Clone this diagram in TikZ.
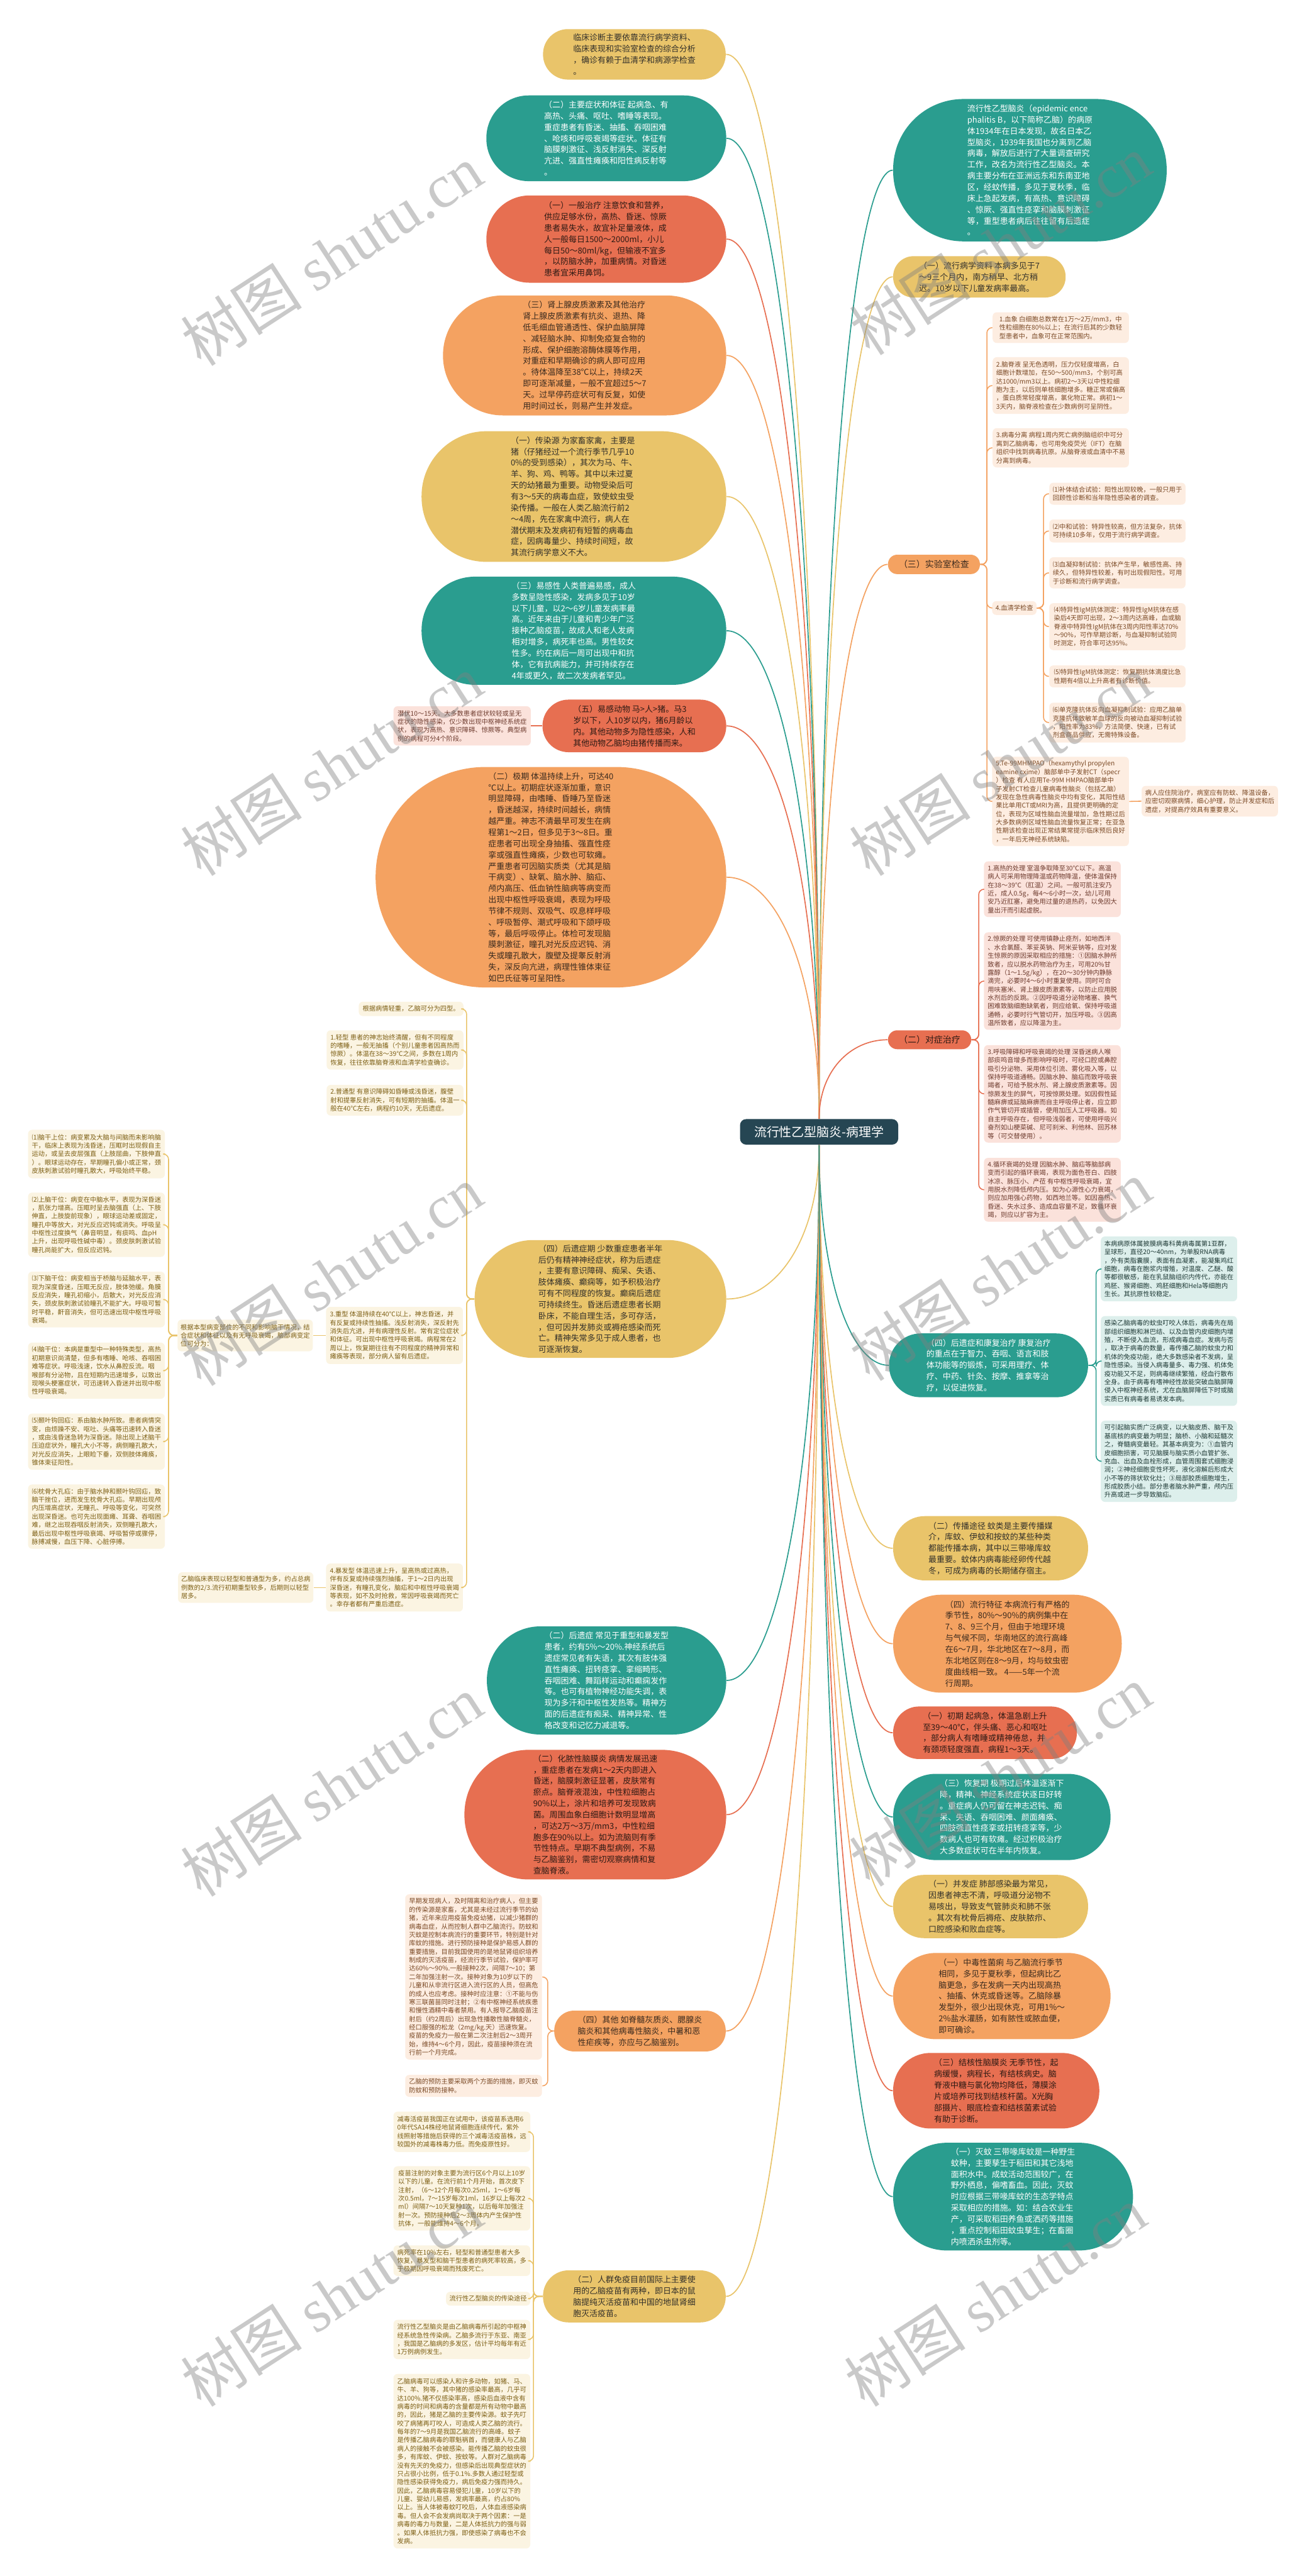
\documentclass[tikz,border=0pt]{standalone}
\usepackage{fontspec}
\setmainfont{Noto Sans CJK SC}
\newfontfamily\wmlatin{Liberation Serif}
\usetikzlibrary{calc}
\definecolor{cY}{HTML}{E9C46A}
\definecolor{cT}{HTML}{2A9D8F}
\definecolor{cR}{HTML}{E76F51}
\definecolor{cO}{HTML}{F4A261}
\definecolor{cRoot}{HTML}{264653}
\definecolor{txY}{HTML}{33302A}
\definecolor{txO}{HTML}{3A2A1E}
\definecolor{txR}{HTML}{2E1A14}
\definecolor{lfY}{HTML}{FBF4E2}
\definecolor{lfO}{HTML}{FDEDE1}
\definecolor{lfR}{HTML}{FBE2DB}
\definecolor{lfT}{HTML}{DDEFEC}
\definecolor{ltY}{HTML}{7D5F14}
\definecolor{ltO}{HTML}{7B4A26}
\definecolor{ltR}{HTML}{6E3B2E}
\definecolor{ltT}{HTML}{1F3A36}
\newcommand\bigf{\fontsize{4.55}{6.26}\selectfont}
\newcommand\smallf{\fontsize{3.6}{4.69}\selectfont}
\tikzset{
 sz/.style n args={3}{minimum width=#1cm,minimum height=#2cm,rounded corners=#3cm},
 ls/.style 2 args={minimum width=#1cm,minimum height=#2cm},
 big/.style={rectangle,align=left,inner sep=0pt,font=\bigf},
 bY/.style={big,fill=cY,text=txY},
 bT/.style={big,fill=cT,text=white},
 bR/.style={big,fill=cR,text=txR},
 bO/.style={big,fill=cO,text=txO},
 leaf/.style={rectangle,rounded corners=0.08cm,align=left,inner xsep=0.06cm,inner ysep=0.03cm,font=\smallf},
 lY/.style={leaf,fill=lfY,text=ltY},
 lO/.style={leaf,fill=lfO,text=ltO},
 lR/.style={leaf,fill=lfR,text=ltR},
 lT/.style={leaf,fill=lfT,text=ltT},
 cl/.style={line width=0.6pt},
 bl/.style={line width=0.55pt,rounded corners=3pt},
 rl/.style={to path={let \p1=(\tikztostart), \p2=(\tikztotarget) in .. controls ({\x1+0.55*(\x2-\x1)},\y1) and (\x2,{\y1+0.4*(\y2-\y1)}) .. (\tikztotarget)}},
 wm/.style={rotate=33,text=gray,text opacity=0.42,font=\fontsize{34}{34}\selectfont}
}
\begin{document}
\begin{tikzpicture}
\useasboundingbox (0,0) rectangle (25.6,-50.48);
\fill[white] (0,0) rectangle (25.6,-50.48);

% root
\node[rectangle,rounded corners=0.12cm,fill=cRoot,text=white,minimum width=3.1cm,minimum height=0.5cm,font=\fontsize{7}{8}\selectfont] (root) at (16.05,-22.18) {流行性乙型脑炎-病理学};

% ---------- left / centre column ----------
\node[bY,sz={3.58}{0.99}{0.49}] (n1) at (12.43,-1.065) {临床诊断主要依靠流行病学资料、\\临床表现和实验室检查的综合分析\\，确诊有赖于血清学和病源学检查\\。};
\node[bT,sz={4.70}{1.68}{0.83}] (n2) at (11.88,-2.71) {（二）主要症状和体征 起病急、有\\高热、头痛、呕吐、嗜睡等表现。\\重症患者有昏迷、抽搐、吞咽困难\\、呛咳和呼吸衰竭等症状。体征有\\脑膜刺激征、浅反射消失、深反射\\亢进、强直性瘫痪和阳性病反射等\\。};
\node[bR,sz={4.70}{1.71}{0.85}] (n3) at (11.88,-4.685) {（一）一般治疗 注意饮食和营养，\\供应足够水份，高热、昏迷、惊厥\\患者易失水，故宜补足量液体，成\\人一般每日1500～2000ml，小儿\\每日50～80ml/kg，但输液不宜多\\，以防脑水肿，加重病情。对昏迷\\患者宜采用鼻饲。};
\node[bO,sz={5.55}{2.35}{1.17}] (n4) at (11.455,-6.965) {（三）肾上腺皮质激素及其他治疗\\肾上腺皮质激素有抗炎、退热、降\\低毛细血管通透性、保护血脑屏障\\、减轻脑水肿、抑制免疫复合物的\\形成、保护细胞溶酶体膜等作用，\\对重症和早期确诊的病人即可应用\\。待体温降至38℃以上，持续2天\\即可逐渐减量，一般不宜超过5～7\\天。过早停药症状可有反复，如使\\用时间过长，则易产生并发症。};
\node[bY,sz={5.97}{2.56}{1.27}] (n5) at (11.245,-9.73) {（一）传染源 为家畜家禽，主要是\\猪（仔猪经过一个流行季节几乎10\\0\%的受到感染），其次为马、牛、\\羊、狗、鸡、鸭等。其中以未过夏\\天的幼猪最为重要。动物受染后可\\有3～5天的病毒血症，致使蚊虫受\\染传播。一般在人类乙脑流行前2\\～4周，先在家禽中流行，病人在\\潜伏期末及发病初有短暂的病毒血\\症，因病毒量少、持续时间短，故\\其流行病学意义不大。};
\node[bT,sz={5.97}{2.12}{1.05}] (n6) at (11.245,-12.36) {（三）易感性 人类普遍易感，成人\\多数呈隐性感染，发病多见于10岁\\以下儿童，以2～6岁儿童发病率最\\高。近年来由于儿童和青少年广泛\\接种乙脑疫苗，故成人和老人发病\\相对增多，病死率也高。男性较女\\性多。约在病后一周可出现中和抗\\体，它有抗病能力，并可持续存在\\4年或更久，故二次发病者罕见。};
\node[bR,sz={3.60}{1.03}{0.51}] (n7) at (12.43,-14.225) {（五）易感动物 马>人>猪。马3\\岁以下，人10岁以内，猪6月龄以\\内。其他动物多为隐性感染，人和\\其他动物乙脑均由猪传播而来。};
\node[lR,ls={2.69}{0.77}] (lf7) at (9.055,-14.225) {潜伏10～15天。大多数患者症状较轻或呈无\\症状的隐性感染，仅少数出现中枢神经系统症\\状，表现为高热、意识障碍、惊厥等。典型病\\例的病程可分4个阶段。};
\node[bO,sz={6.87}{4.32}{2.15}] (n8) at (10.795,-17.19) {（二）极期 体温持续上升，可达40\\℃以上。初期症状逐渐加重，意识\\明显障碍，由嗜睡、昏睡乃至昏迷\\，昏迷越深，持续时间越长，病情\\越严重。神志不清最早可发生在病\\程第1～2日，但多见于3～8日。重\\症患者可出现全身抽搐、强直性痉\\挛或强直性瘫痪，少数也可软瘫。\\严重患者可因脑实质类（尤其是脑\\干病变）、缺氧、脑水肿、脑疝、\\颅内高压、低血钠性脑病等病变而\\出现中枢性呼吸衰竭，表现为呼吸\\节律不规则、双吸气、叹息样呼吸\\、呼吸暂停、潮式呼吸和下颌呼吸\\等，最后呼吸停止。体检可发现脑\\膜刺激征，瞳孔对光反应迟钝、消\\失或瞳孔散大，腹壁及提睾反射消\\失，深反向亢进，病理性锥体束征\\如巴氏征等可呈阳性。};
\node[bY,sz={4.93}{2.31}{1.15}] (n9) at (11.765,-25.455) {（四）后遗症期 少数重症患者半年\\后仍有精神神经症状，称为后遗症\\，主要有意识障碍、痴呆、失语、\\肢体瘫痪、癫痫等，如予积极治疗\\可有不同程度的恢复。癫痫后遗症\\可持续终生。昏迷后遗症患者长期\\卧床，不能自理生活，多可存活，\\，但可因并发肺炎或褥疮感染而死\\亡。精神失常多见于成人患者，也\\可逐渐恢复。};

% clinical types (yellow leaves)
\node[lY,ls={2.05}{0.28}] (L0) at (8.055,-19.77) {根据病情轻重，乙脑可分为四型。};
\node[lY,ls={2.68}{0.77}] (L1) at (7.74,-20.575) {1.轻型 患者的神志始终清醒，但有不同程度\\的嗜睡，一般无抽搐（个别儿童患者因高热而\\惊厥）。体温在38～39℃之间，多数在1周内\\恢复，往往依靠脑脊液和血清学检查确诊。};
\node[lY,ls={2.68}{0.60}] (L2) at (7.74,-21.56) {2.普通型 有意识障碍如昏睡或浅昏迷，腹壁\\射和提睾反射消失，可有短期的抽搐。体温一\\般在40℃左右，病程约10天，无后遗症。};
\node[lY,ls={2.68}{1.12}] (L3) at (7.73,-26.17) {3.重型 体温持续在40℃以上，神志昏迷，并\\有反复或持续性抽搐。浅反射消失，深反射先\\消失后亢进，并有病理性反射。常有定位症状\\和体征。可出现中枢性呼吸衰竭。病程常在2\\周以上，恢复期往往有不同程度的精神异常和\\瘫痪等表现，部分病人留有后遗症。};
\node[lY,ls={2.65}{0.62}] (L3a) at (4.805,-26.17) {根据本型病变部位的不同和影响脑干情况，结\\合症状和体征以及有无呼吸衰竭，脑部病变定\\位可分为：};
\node[lY,ls={2.68}{0.95}] (S1) at (1.89,-22.615) {⑴脑干上位：病变累及大脑与间脑而未影响脑\\干，临床上表现为浅昏迷，压眶时出现假自主\\运动，或呈去皮层强直（上肢屈曲，下肢伸直\\）。眼球运动存在，早期瞳孔偏小或正常，颈\\皮肤刺激试验时瞳孔散大，呼吸始终平稳。};
\node[lY,ls={2.68}{1.26}] (S2) at (1.89,-24.0) {⑵上脑干位：病变在中脑水平，表现为深昏迷\\，肌张力增高。压眶时呈去脑强直（上、下肢\\伸直，上肢旋前现象），眼球运动差或固定，\\瞳孔中等放大，对光反应迟钝或消失。呼吸呈\\中枢性过度换气（鼻音明显，有痰鸣、血pH\\上升，出现呼吸性碱中毒）。颈皮肤刺激试验\\瞳孔尚能扩大，但反应迟钝。};
\node[lY,ls={2.68}{1.09}] (S3) at (1.89,-25.465) {⑶下脑干位：病变相当于桥脑与延脑水平，表\\现为深度昏迷，压眶无反应，肢体弛缓。角膜\\反应消失，瞳孔初缩小，后散大，对光反应消\\失，颈皮肤刺激试验瞳孔不能扩大。呼吸可暂\\时平稳，鼾音消失，但可迅速出现中枢性呼吸\\衰竭。};
\node[lY,ls={2.68}{1.10}] (S4) at (1.89,-26.86) {⑷脑干位：本病是重型中一种特殊类型，高热\\初期意识尚清楚，但多有嗜睡、呛咳、吞咽困\\难等症状。呼吸浅速，饮水从鼻腔反流。咽\\喉部有分泌物，且在短期内迅速增多，以致出\\现喉头梗塞症状，可迅速转入昏迷并出现中枢\\性呼吸衰竭。};
\node[lY,ls={2.68}{1.10}] (S5) at (1.89,-28.25) {⑸颞叶钩回疝：系由脑水肿所致。患者病情突\\变，由烦躁不安、呕吐、头痛等迅速转入昏迷\\，或由浅昏迷急转为深昏迷。除出现上述脑干\\压迫症状外，瞳孔大小不等，病侧瞳孔散大，\\对光反应消失，上眼睑下垂，双侧肢体瘫痪，\\锥体束征阳性。};
\node[lY,ls={2.68}{1.26}] (S6) at (1.89,-29.72) {⑹枕骨大孔疝：由于脑水肿和颞叶钩回疝，致\\脑干挫位，进而发生枕骨大孔疝。早期出现颅\\内压增高症状，无瞳孔、呼吸等变化，可突然\\出现深昏迷。也可先出现面瘫、耳聋、吞咽困\\难，继之出现吞咽反射消失，双侧瞳孔散大，\\最后出现中枢性呼吸衰竭、呼吸暂停或骤停，\\脉搏减慢，血压下降、心脏停搏。};
\node[lY,ls={2.68}{0.94}] (L4) at (7.73,-31.11) {4.暴发型 体温迅速上升，呈高热或过高热，\\伴有反复或持续强烈抽搐，于1～2日内出现\\深昏迷，有瞳孔变化，脑疝和中枢性呼吸衰竭\\等表现，如不及时抢救，常因呼吸衰竭而死亡\\。幸存者都有严重后遗症。};
\node[lY,ls={2.65}{0.60}] (L4a) at (4.815,-31.11) {乙脑临床表现以轻型和普通型为多，约占总病\\例数的2/3.流行初期重型较多，后期则以轻型\\居多。};

\node[bT,sz={4.69}{2.12}{1.05}] (C1) at (11.885,-32.93) {（二）后遗症 常见于重型和暴发型\\患者，约有5\%～20\%.神经系统后\\遗症常见者有失语，其次有肢体强\\直性瘫痪、扭转痉挛、挛缩畸形、\\吞咽困难、舞蹈样运动和癫痫发作\\等。也可有植物神经功能失调，表\\现为多汗和中枢性发热等。精神方\\面的后遗症有痴呆、精神异常、性\\格改变和记忆力减退等。};
\node[bR,sz={5.13}{2.54}{1.26}] (C2) at (11.665,-35.56) {（二）化脓性脑膜炎 病情发展迅速\\，重症患者在发病1～2天内即进入\\昏迷，脑膜刺激征显著，皮肤常有\\瘀点。脑脊液混浊，中性粒细胞占\\90\%以上，涂片和培养可发现致病\\菌。周围血象白细胞计数明显增高\\，可达2万～3万/mm3，中性粒细\\胞多在90\%以上。如为流脑则有季\\节性特点。早期不典型病例，不易\\与乙脑鉴别，需密切观察病情和复\\查脑脊液。};
\node[bO,sz={3.36}{0.80}{0.39}] (C3) at (12.54,-39.80) {（四）其他 如脊髓灰质炎、腮腺炎\\脑炎和其他病毒性脑炎，中暑和恶\\性疟疾等，亦应与乙脑鉴别。};
\node[lO,ls={2.68}{3.24}] (C3a) at (9.28,-38.74) {早期发现病人，及时隔离和治疗病人，但主要\\的传染源是家畜，尤其是未经过流行季节的幼\\猪，近年来应用疫苗免疫幼猪，以减少猪群的\\病毒血症，从而控制人群中乙脑流行。防蚊和\\灭蚊是控制本病流行的重要环节，特别是针对\\库蚊的措施。进行预防接种是保护易感人群的\\重要措施，目前我国使用的是地鼠肾组织培养\\制成的灭活疫苗，经流行季节试验，保护率可\\达60\%～90\%.一般接种2次，间隔7～10；第\\二年加强注射一次。接种对象为10岁以下的\\儿童和从非流行区进入流行区的人员，但高危\\的成人也应考虑。接种时应注意：①不能与伤\\寒三联菌苗同时注射；②有中枢神经系统疾患\\和慢性酒精中毒者禁用。有人报导乙脑疫苗注\\射后（约2周后）出现急性播散性脑脊髓炎，\\经口服强的松龙（2mg/kg.天）迅速恢复。\\疫苗的免疫力一般在第二次注射后2～3周开\\始，维持4～6个月，因此，疫苗接种须在流\\行前一个月完成。};
\node[lO,ls={2.68}{0.43}] (C3b) at (9.28,-40.875) {乙脑的预防主要采取两个方面的措施，即灭蚊\\防蚊和预防接种。};
\node[bY,sz={3.58}{1.02}{0.50}] (C4) at (12.43,-45.0) {（二）人群免疫目前国际上主要使\\用的乙脑疫苗有两种，即日本的鼠\\脑提纯灭活疫苗和中国的地鼠肾细\\胞灭活疫苗。};
\node[lY,ls={2.68}{0.79}] (V1) at (9.05,-41.775) {减毒活疫苗我国正在试用中，该疫苗系选用6\\0年代SA14株经地鼠肾细胞连续传代，紫外\\线照射等措施后获得的三个减毒活疫苗株，远\\较国外的减毒株毒力低。而免疫原性好。};
\node[lY,ls={2.68}{1.26}] (V2) at (9.05,-43.08) {疫苗注射的对象主要为流行区6个月以上10岁\\以下的儿童。在流行前1个月开始，首次皮下\\注射，（6～12个月每次0.25ml，1～6岁每\\次0.5ml，7～15岁每次1ml，16岁以上每次2\\ml）间隔7～10天复种1次，以后每年加强注\\射一次。预防接种后2～3周体内产生保护性\\抗体，一般能维持4～6个月。};
\node[lY,ls={2.68}{0.60}] (V3) at (9.05,-44.30) {病死率在10\%左右，轻型和普通型患者大多\\恢复，暴发型和脑干型患者的病死率较高，多\\于极期因呼吸衰竭而残废死亡。};
\node[lY,ls={1.65}{0.27}] (V4) at (9.565,-45.045) {流行性乙型脑炎的传染途径};
\node[lY,ls={2.68}{0.77}] (V5) at (9.05,-45.845) {流行性乙型脑炎是由乙脑病毒所引起的中枢神\\经系统急性传染病。乙脑多流行于东亚、南亚\\，我国是乙脑病的多发区，估计平均每年有近\\1万例病例发生。};
\node[lY,ls={2.68}{3.42}] (V6) at (9.05,-48.23) {乙脑病毒可以感染人和许多动物，如猪、马、\\牛、羊、狗等，其中猪的感染率最高，几乎可\\达100\%.猪不仅感染率高，感染后血液中含有\\病毒的时间和病毒的含量都是所有动物中最高\\的，因此，猪是乙脑的主要传染源。蚊子先叮\\咬了病猪再叮咬人，可造成人类乙脑的流行。\\每年的7～9月是我国乙脑流行的高峰。蚊子\\是传播乙脑病毒的罪魁祸首，而健康人与乙脑\\病人的接触不会被感染。能传播乙脑的蚊虫很\\多，有库蚊、伊蚊、按蚊等。人群对乙脑病毒\\没有先天的免疫力，但感染后出现典型症状的\\只占很小比例，低于0.1\%.多数人通过轻型或\\隐性感染获得免疫力，病后免疫力强而持久。\\因此，乙脑病毒容易侵犯儿童，10岁以下的\\儿童、婴幼儿易感，发病率最高，约占80\%\\以上。当人体被毒蚊叮咬后，人体血液感染病\\毒。但人会不会发病尚取决于两个因素：一是\\病毒的毒力与数量，二是人体抵抗力的强与弱\\。如果人体抵抗力强，即使感染了病毒也不会\\发病。};

% ---------- right column ----------
\node[bT,sz={5.36}{2.79}{1.38}] (R1) at (20.18,-3.335) {流行性乙型脑炎（epidemic ence\\phalitis B，以下简称乙脑）的病原\\体1934年在日本发现，故名日本乙\\型脑炎，1939年我国也分离到乙脑\\病毒，解放后进行了大量调查研究\\工作，改名为流行性乙型脑炎。本\\病主要分布在亚洲远东和东南亚地\\区，经蚊传播，多见于夏秋季，临\\床上急起发病，有高热、意识障碍\\、惊厥、强直性痉挛和脑膜刺激征\\等，重型患者病后往往留有后遗症\\。};
\node[bY,sz={3.38}{0.81}{0.40}] (R2) at (19.19,-5.425) {（一）流行病学资料 本病多见于7\\～9三个月内，南方稍早、北方稍\\迟。10岁以下儿童发病率最高。};
\node[bO,sz={1.80}{0.38}{0.18},font=\fontsize{4.9}{6}\selectfont] (R3) at (18.30,-11.06) {（三）实验室检查};
\node[lO,ls={2.67}{0.60}] (E1) at (20.785,-6.42) {1.血象 白细胞总数常在1万～2万/mm3，中\\性粒细胞在80\%以上；在流行后其的少数轻\\型患者中，血象可在正常范围内。};
\node[lO,ls={2.67}{1.11}] (E2) at (20.785,-7.555) {2.脑脊液 呈无色透明，压力仅轻度增高，白\\细胞计数增加，在50～500/mm3，个别可高\\达1000/mm3以上。病初2～3天以中性粒细\\胞为主，以后则单核细胞增多。糖正常或偏高\\，蛋白质常轻度增高，氯化物正常。病初1～\\3天内，脑脊液检查在少数病例可呈阴性。};
\node[lO,ls={2.67}{0.77}] (E3) at (20.785,-8.775) {3.病毒分离 病程1周内死亡病例脑组织中可分\\离到乙脑病毒，也可用免疫荧光（IFT）在脑\\组织中找到病毒抗原。从脑脊液或血清中不易\\分离到病毒。};
\node[lO,ls={0.87}{0.27}] (E4) at (19.875,-11.915) {4.血清学检查};
\node[lO,ls={2.67}{0.43}] (F1) at (21.895,-9.675) {⑴补体结合试验：阳性出现较晚，一般只用于\\回顾性诊断和当年隐性感染者的调查。};
\node[lO,ls={2.67}{0.45}] (F2) at (21.895,-10.405) {⑵中和试验：特异性较高，但方法复杂，抗体\\可持续10多年，仅用于流行病学调查。};
\node[lO,ls={2.67}{0.61}] (F3) at (21.895,-11.225) {⑶血凝抑制试验：抗体产生早，敏感性高、持\\续久，但特异性较差，有时出现假阳性。可用\\于诊断和流行病学调查。};
\node[lO,ls={2.67}{0.92}] (F4) at (21.895,-12.28) {⑷特异性IgM抗体测定：特异性IgM抗体在感\\染后4天即可出现，2～3周内达高峰，血或脑\\脊液中特异性IgM抗体在3周内阳性率达70\%\\～90\%，可作早期诊断，与血凝抑制试验同\\时测定，符合率可达95\%。};
\node[lO,ls={2.67}{0.43}] (F5) at (21.895,-13.255) {⑸特异性IgM抗体测定：恢复期抗体滴度比急\\性期有4倍以上升高者有诊断价值。};
\node[lO,ls={2.67}{0.78}] (F6) at (21.895,-14.16) {⑹单克隆抗体反向血凝抑制试验：应用乙脑单\\克隆抗体致敏羊血球的反向被动血凝抑制试验\\，阳性率为83\%，方法简便、快速，已有试\\剂盒商品供应，无需特殊设备。};
\node[lO,ls={2.68}{1.75}] (E5) at (20.78,-15.705) {5.Te-99MHMPAO（hexamythyl propylen\\eamine cxime）脑部单中子发射CT（specr\\）检查 有人应用Te-99M HMPAO脑部单中\\子发射CT检查儿童病毒性脑炎（包括乙脑）\\发现在急性病毒性脑炎中均有变化，其阳性结\\果比单用CT或MRI为高，且提供更明确的定\\位，表现为区域性脑血流量增加，急性期过后\\大多数病例区域性脑血流量恢复正常；在亚急\\性期该检查出现正常结果常提示临床预后良好\\，一年后无神经系统缺陷。};
\node[lO,ls={2.67}{0.60}] (E5c) at (23.705,-15.70) {病人应住院治疗，病室应有防蚊、降温设备，\\应密切观察病情，细心护理，防止并发症和后\\遗症，对提高疗效具有重要意义。};

\node[bR,sz={1.63}{0.37}{0.18},font=\fontsize{4.9}{6}\selectfont] (R4) at (18.215,-20.375) {（二）对症治疗};
\node[lR,ls={2.68}{1.09}] (T1) at (20.62,-17.425) {1.高热的处理 室温争取降至30℃以下。高温\\病人可采用物理降温或药物降温，使体温保持\\在38～39℃（肛温）之间。一般可肌注安乃\\近，成人0.5g，每4～6小时一次，幼儿可用\\安乃近肛塞，避免用过量的退热药，以免因大\\量出汗而引起虚脱。};
\node[lR,ls={2.68}{1.91}] (T2) at (20.62,-19.225) {2.惊厥的处理 可使用镇静止痉剂，如地西泮\\、水合氯醛、苯妥英钠、阿米妥钠等，应对发\\生惊厥的原因采取相应的措施：①因脑水肿所\\致者，应以脱水药物治疗为主，可用20\%甘\\露醇（1～1.5g/kg），在20～30分钟内静脉\\滴完，必要时4～6小时重复使用。同时可合\\用呋塞米、肾上腺皮质激素等，以防止应用脱\\水剂后的反跳。②因呼吸道分泌物堵塞、换气\\困难致脑细胞缺氧者，则应给氧、保持呼吸道\\通畅，必要时行气管切开，加压呼吸。③因高\\温所致者，应以降温为主。};
\node[lR,ls={2.68}{1.91}] (T3) at (20.62,-21.435) {3.呼吸障碍和呼吸衰竭的处理 深昏迷病人喉\\部痰鸣音增多而影响呼吸时，可经口腔或鼻腔\\吸引分泌物、采用体位引流、雾化吸入等，以\\保持呼吸道通畅。因脑水肿、脑疝而致呼吸衰\\竭者，可给予脱水剂、肾上腺皮质激素等。因\\惊厥发生的屏气，可按惊厥处理。如因假性延\\髓麻痹或延脑麻痹而自主呼吸停止者，应立即\\作气管切开或插管，使用加压人工呼吸器。如\\自主呼吸存在，但呼吸浅弱者，可使用呼吸兴\\奋剂如山梗菜碱、尼可刹米、利他林、回苏林\\等（可交替使用）。};
\node[lR,ls={2.68}{1.25}] (T4) at (20.62,-23.315) {4.循环衰竭的处理 因脑水肿、脑疝等脑部病\\变而引起的循环衰竭，表现为面色苍白、四肢\\冰凉、脉压小、产莅 有中枢性呼吸衰竭，宜\\用脱水剂降低颅内压。如为心源性心力衰竭，\\则应加用强心药物，如西地兰等。如因高热、\\昏迷、失水过多、造成血容量不足，致循环衰\\竭，则应以扩容为主。};

\node[bT,sz={3.90}{1.25}{0.62}] (R5) at (19.37,-26.755) {（四）后遗症和康复治疗 康复治疗\\的重点在于智力、吞咽、语言和肢\\体功能等的锻炼，可采用理疗、体\\疗、中药、针灸、按摩、推拿等治\\疗，以促进恢复。};
\node[lT,ls={2.67}{1.27}] (P1) at (22.905,-24.865) {本病病原体属披膜病毒科黄病毒属第1亚群，\\呈球形，直径20～40nm，为单股RNA病毒\\，外有类脂囊膜，表面有血凝素，能凝集鸡红\\细胞，病毒在胞浆内增殖，对温度、乙醚、酸\\等都很敏感，能在乳鼠脑组织内传代，亦能在\\鸡胚、猴肾细胞、鸡胚细胞和Hela等细胞内\\生长。其抗原性较稳定。};
\node[lT,ls={2.67}{1.76}] (P2) at (22.905,-26.67) {感染乙脑病毒的蚊虫叮咬人体后，病毒先在局\\部组织细胞和淋巴结、以及血管内皮细胞内增\\殖，不断侵入血流，形成病毒血症。发病与否\\，取决于病毒的数量，毒传播乙脑的蚊虫力和\\机体的免疫功能，绝大多数感染者不发病，呈\\隐性感染。当侵入病毒量多、毒力强、机体免\\疫功能又不足，则病毒继续繁殖，经血行散布\\全身。由于病毒有嗜神经性故能突破血脑屏障\\侵入中枢神经系统，尤在血脑屏障低下时或脑\\实质已有病毒者易诱发本病。};
\node[lT,ls={2.67}{1.59}] (P3) at (22.905,-28.635) {可引起脑实质广泛病变，以大脑皮质、脑干及\\基底核的病变最为明显；脑桥、小脑和延髓次\\之，脊髓病变最轻。其基本病变为：①血管内\\皮细胞损害，可见脑膜与脑实质小血管扩张、\\充血、出血及血栓形成，血管周围套式细胞浸\\润；②神经细胞变性坏死，液化溶解后形成大\\小不等的筛状软化灶；③局部胶质细胞增生，\\形成胶质小结。部分患者脑水肿严重，颅内压\\升高或进一步导致脑疝。};

\node[bY,sz={3.82}{1.26}{0.62}] (R6) at (19.41,-30.34) {（二）传播途径 蚊类是主要传播媒\\介，库蚊、伊蚊和按蚊的某些种类\\都能传播本病，其中以三带喙库蚊\\最重要。蚊体内病毒能经卵传代越\\冬，可成为病毒的长期储存宿主。};
\node[bO,sz={4.48}{1.92}{0.95}] (R7) at (19.74,-32.21) {（四）流行特征 本病流行有严格的\\季节性，80\%～90\%的病例集中在\\7、8、9三个月，但由于地理环境\\与气候不同，华南地区的流行高峰\\在6～7月，华北地区在7～8月，而\\东北地区则在8～9月，均与蚊虫密\\度曲线相一致。 4——5年一个流\\行周期。};
\node[bR,sz={3.60}{1.03}{0.51}] (R8) at (19.30,-33.955) {（一）初期 起病急，体温急剧上升\\至39～40℃，伴头痛、恶心和呕吐\\，部分病人有嗜睡或精神倦怠，并\\有颈项轻度强直，病程1～3天。};
\node[bT,sz={4.26}{1.69}{0.84}] (R9) at (19.63,-35.605) {（三）恢复期 极期过后体温逐渐下\\降，精神、神经系统症状逐日好转\\。重症病人仍可留在神志迟钝、痴\\呆、失语、吞咽困难、颜面瘫痪、\\四肢强直性痉挛或扭转痉挛等，少\\数病人也可有软瘫。经过积极治疗\\大多数症状可在半年内恢复。};
\node[bY,sz={3.82}{1.24}{0.61}] (R10) at (19.41,-37.36) {（一）并发症 肺部感染最为常见，\\因患者神志不清，呼吸道分泌物不\\易咳出，导致支气管肺炎和肺不张\\。其次有枕骨后褥疮、皮肤脓疖、\\口腔感染和败血症等。};
\node[bO,sz={4.26}{1.69}{0.84}] (R11) at (19.63,-39.115) {（一）中毒性菌痢 与乙脑流行季节\\相同，多见于夏秋季，但起病比乙\\脑更急，多在发病一天内出现高热\\、抽搐、休克或昏迷等。乙脑除暴\\发型外，很少出现休克，可用1\%～\\2\%盐水灌肠，如有脓性或脓血便，\\即可确诊。};
\node[bR,sz={4.04}{1.48}{0.73}] (R12) at (19.52,-40.97) {（三）结核性脑膜炎 无季节性，起\\病缓慢，病程长，有结核病史。脑\\脊液中糖与氯化物均降低，薄膜涂\\片或培养可找到结核杆菌。X光胸\\部摄片、眼底检查和结核菌素试验\\有助于诊断。};
\node[bT,sz={4.70}{2.11}{1.05}] (R13) at (19.85,-43.045) {（一）灭蚊 三带喙库蚊是一种野生\\蚊种，主要孳生于稻田和其它浅地\\面积水中。成蚊活动范围较广，在\\野外栖息，偏嗜畜血。因此，灭蚊\\时应根据三带喙库蚊的生态学特点\\采取相应的措施。如：结合农业生\\产，可采取稻田养鱼或洒药等措施\\，重点控制稻田蚊虫孳生；在畜圈\\内喷洒杀虫剂等。};

% ---------- connectors from root ----------
\draw[cl,draw=cY] (n1.east) to[rl] (root.north);
\draw[cl,draw=cT] (n2.east) to[rl] (root.north);
\draw[cl,draw=cR] (n3.east) to[rl] (root.north);
\draw[cl,draw=cO] (n4.east) to[rl] (root.north);
\draw[cl,draw=cY] (n5.east) to[rl] (root.north);
\draw[cl,draw=cT] (n6.east) to[rl] (root.north);
\draw[cl,draw=cR] (n7.east) to[rl] (root.north);
\draw[cl,draw=cO] (n8.east) to[rl] (root.north);
\draw[cl,draw=cY] (n9.east) to[rl] (root.south);
\draw[cl,draw=cT] (C1.east) to[rl] (root.south);
\draw[cl,draw=cR] (C2.east) to[rl] (root.south);
\draw[cl,draw=cO] (C3.east) to[rl] (root.south);
\draw[cl,draw=cY] (C4.east) to[rl] (root.south);
\draw[cl,draw=cT] (R1.west) to[rl] (root.north);
\draw[cl,draw=cY] (R2.west) to[rl] (root.north);
\draw[cl,draw=cO] (R3.west) to[rl] (root.north);
\draw[cl,draw=cR] (R4.west) to[rl] (root.north);
\draw[cl,draw=cT] (R5.west) to[rl] (root.south);
\draw[cl,draw=cY] (R6.west) to[rl] (root.south);
\draw[cl,draw=cO] (R7.west) to[rl] (root.south);
\draw[cl,draw=cR] (R8.west) to[rl] (root.south);
\draw[cl,draw=cT] (R9.west) to[rl] (root.south);
\draw[cl,draw=cY] (R10.west) to[rl] (root.south);
\draw[cl,draw=cO] (R11.west) to[rl] (root.south);
\draw[cl,draw=cR] (R12.west) to[rl] (root.south);
\draw[cl,draw=cT] (R13.west) to[rl] (root.south);

% ---------- brackets ----------
\draw[bl,draw=cR] (n7.west) -- (lf7.east);
\foreach \c in {L0,L1,L2,L3,L4} \draw[bl,draw=cY] (n9.west) -- ++(-0.15,0) |- (\c.east);
\draw[bl,draw=cY] (L3.west) -- (L3a.east);
\draw[bl,draw=cY] (L4.west) -- (L4a.east);
\foreach \c in {S1,S2,S3,S4,S5,S6} \draw[bl,draw=cY] (L3a.west) -- ++(-0.17,0) |- (\c.east);
\foreach \c in {C3a,C3b} \draw[bl,draw=cO] (C3.west) -- ++(-0.12,0) |- (\c.east);
\foreach \c in {V1,V2,V3,V4,V5,V6} \draw[bl,draw=cY] (C4.west) -- ++(-0.18,0) |- (\c.east);
\foreach \c in {E1,E2,E3,E4,E5} \draw[bl,draw=cO] (R3.east) -- ++(0.13,0) |- (\c.west);
\foreach \c in {F1,F2,F3,F4,F5,F6} \draw[bl,draw=cO] (E4.east) -- ++(0.13,0) |- (\c.west);
\draw[bl,draw=cO] (E5.east) -- (E5c.west);
\foreach \c in {T1,T2,T3,T4} \draw[bl,draw=cR] (R4.east) -- ++(0.14,0) |- (\c.west);
\foreach \c in {P1,P2,P3} \draw[bl,draw=cT] (R5.east) -- ++(0.15,0) |- (\c.west);

% ---------- watermarks ----------
\node[wm] (wm1) at (6.5,-5.0) {树图 {\wmlatin shutu.cn}};
\node[wm] (wm2) at (19.6,-4.8) {树图 {\wmlatin shutu.cn}};
\node[wm] (wm3) at (6.5,-15.0) {树图 {\wmlatin shutu.cn}};
\node[wm] (wm4) at (19.6,-15.0) {树图 {\wmlatin shutu.cn}};
\node[wm] (wm5) at (6.5,-25.0) {树图 {\wmlatin shutu.cn}};
\node[wm] (wm6) at (19.6,-24.9) {树图 {\wmlatin shutu.cn}};
\node[wm] (wm7) at (6.5,-35.0) {树图 {\wmlatin shutu.cn}};
\node[wm] (wm8) at (19.6,-34.8) {树图 {\wmlatin shutu.cn}};
\node[wm] (wm9) at (6.5,-45.0) {树图 {\wmlatin shutu.cn}};
\node[wm] (wm10) at (19.5,-45.0) {树图 {\wmlatin shutu.cn}};
\end{tikzpicture}
\end{document}
